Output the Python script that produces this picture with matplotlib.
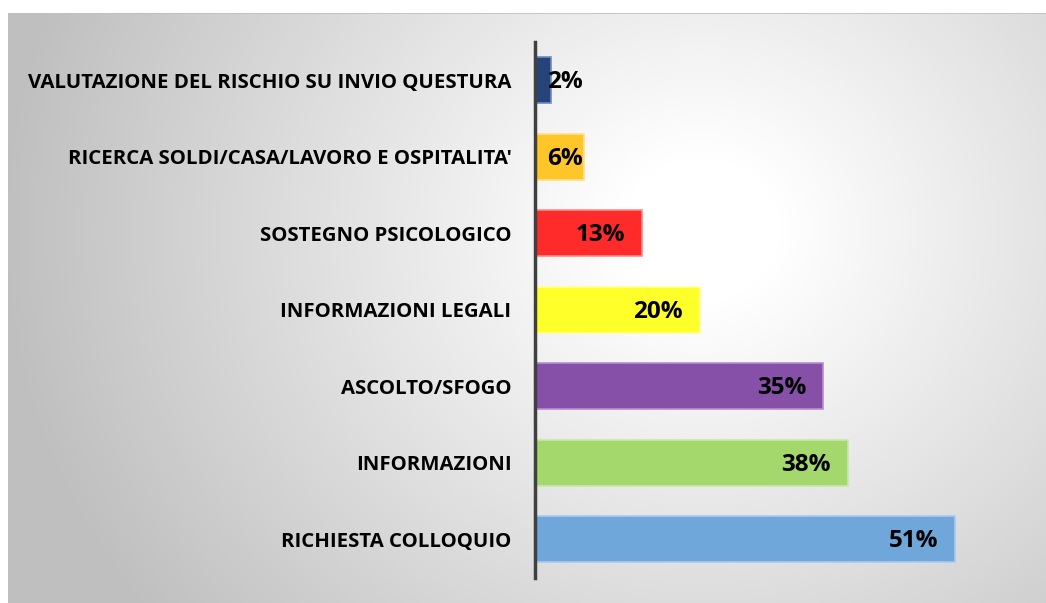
import numpy as np
import matplotlib
matplotlib.use("Agg")
import matplotlib.pyplot as plt
from matplotlib.transforms import offset_copy

categories = ["RICHIESTA COLLOQUIO", "INFORMAZIONI", "ASCOLTO/SFOGO",
              "INFORMAZIONI LEGALI", "SOSTEGNO PSICOLOGICO",
              "RICERCA SOLDI/CASA/LAVORO E OSPITALITA'",
              "VALUTAZIONE DEL RISCHIO SU INVIO QUESTURA"]
values = [51, 38, 35, 20, 13, 6, 2]
colors = ["#6FA7DA", "#A5D86C", "#8650A9", "#FFFF2A", "#FF2A2A", "#FFC62A", "#264479"]
edges = ["#A9CBEA", "#C9E8A8", "#B58FCF", "#FFFF99", "#FF8A8A", "#FFE08A", "#6F8CC0"]

W, H = 1046, 603
fig = plt.figure(figsize=(W / 100, H / 100), dpi=100)
fig.patch.set_facecolor("white")

# background panel with radial gradient
x0, y0 = 8, 13
bg = fig.add_axes([x0 / W, 0, (W - x0) / W, (H - y0) / H])
bg.set_axis_off()
yy, xx = np.mgrid[y0:H, x0:W]
cx, cy = 700, 230
r = np.sqrt(((xx - cx) / 1.0) ** 2 + ((yy - cy) / 0.9) ** 2)
t = np.clip((r - 80) / 620, 0, 1)
g = 1 - 0.25 * t
img = np.dstack([g, g, g])
bg.imshow(img, aspect="auto", extent=[0, 1, 0, 1], origin="upper")
bg.add_line(plt.Line2D([0, 1], [1, 1], color="#BFBFBF", lw=1.2, transform=bg.transAxes))

# main axes
px = 8.235  # pixels per percent
xmax = 55
left_px, top_px = 535, 42
height_px = 7 * 76.5
ax = fig.add_axes([left_px / W, 1 - (top_px + height_px) / H, xmax * px / W, height_px / H])
ax.patch.set_alpha(0)
y = np.arange(len(categories))
ax.barh(y, values, height=0.6, color=colors, edgecolor=edges, linewidth=1.2, zorder=2)
ax.set_xlim(0, xmax)
ax.set_ylim(-0.5, 6.5)
ax.set_yticks(y)
ax.set_yticklabels(categories, fontsize=14.7, fontweight="bold", family=["Open Sans", "DejaVu Sans"])
ax.tick_params(axis="y", length=0, pad=17)
ax.set_xticks([])
for s in ["top", "right", "bottom"]:
    ax.spines[s].set_visible(False)
ax.spines["left"].set_color("#404040")
ax.spines["left"].set_linewidth(2.5)

lbl_tr = offset_copy(ax.transData, fig=fig, x=0, y=-2, units="dots")
for yi, v in zip(y, values):
    xr = max(v - 17 / px, 48 / px)
    ax.text(xr, yi, f"{v}%", ha="right", va="center", fontsize=17.5, fontweight="bold",
            family=["Open Sans", "DejaVu Sans"], color="black", zorder=3, transform=lbl_tr)

fig.savefig("out.png", dpi=100, facecolor="white")
